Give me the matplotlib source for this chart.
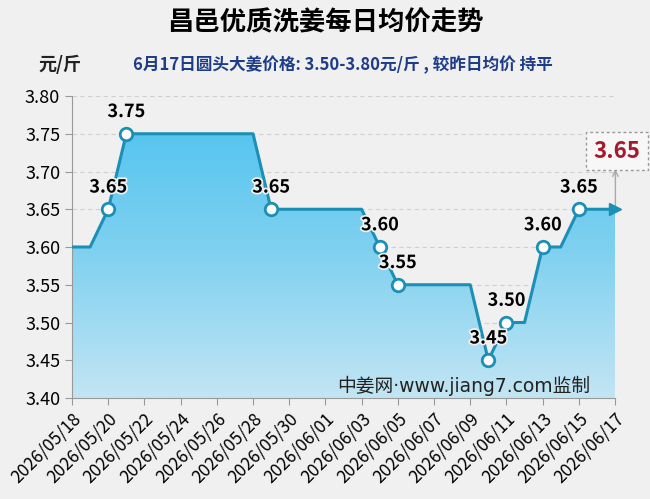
import numpy as np
import matplotlib
matplotlib.use("Agg")
import matplotlib.pyplot as plt
import matplotlib.patheffects as pe
import pandas as pd

plt.rcParams['font.family'] = ['Noto Sans CJK SC', 'DejaVu Sans']

# daily average price, 2026/05/18 .. 2026/06/17
dates = pd.date_range('2026-05-18', '2026-06-17', freq='D')
prices = [3.60, 3.60, 3.65, 3.75, 3.75, 3.75, 3.75, 3.75, 3.75, 3.75,
          3.75, 3.65, 3.65, 3.65, 3.65, 3.65, 3.65, 3.60, 3.55, 3.55,
          3.55, 3.55, 3.55, 3.45, 3.50, 3.50, 3.60, 3.60, 3.65, 3.65,
          3.65]
yticks = [3.40, 3.45, 3.50, 3.55, 3.60, 3.65, 3.70, 3.75, 3.80]

line_col = '#1b8fb5'
bg = '#f0f0f0'

x = np.arange(len(prices))
y = np.array(prices)

fig = plt.figure(figsize=(6.5, 4.99), dpi=100, facecolor=bg)
ax = fig.add_axes([0.1108, 0.2024, 0.8354, 0.6052])
ax.set_facecolor(bg)
ax.set_xlim(0, len(x) - 1)
ax.set_ylim(3.40, 3.80)

# gradient area under the line
poly = ax.fill_between(x, y, 3.40, color='none', lw=0)
grad = np.linspace(0, 1, 256).reshape(-1, 1)
cmap = matplotlib.colors.LinearSegmentedColormap.from_list(
    'g', ['#c2e5f3', '#7ed0f0', '#4bc2ef'])
img = ax.imshow(grad, cmap=cmap, aspect='auto', origin='lower',
                extent=[0, len(x) - 1, 3.40, 3.80], zorder=1)
img.set_clip_path(poly.get_paths()[0], transform=ax.transData)

for v in yticks[1:]:
    ax.axhline(v, color='#d0d0d0', lw=0.8, ls=(0, (4, 3)), zorder=0.5)

ax.plot(x, y, color=line_col, lw=2.2, zorder=3)
ax.plot(x[-1], y[-1], marker='>', color=line_col, ms=9, zorder=4, clip_on=False)

chg = [i for i in range(1, len(y)) if y[i] != y[i - 1]]
ax.plot(x[chg], y[chg], 'o', ms=9, mfc='white', mec=line_col, mew=2, zorder=5)
for i in chg:
    ax.annotate(f'{y[i]:.2f}', (x[i], y[i]), xytext=(0, 16),
                textcoords='offset points', ha='center', va='center',
                fontsize=13, fontweight='bold', color='black', zorder=6,
                path_effects=[pe.withStroke(linewidth=2.5, foreground=bg)])

# last value callout
ax.annotate('', xy=(x[-1] + 0.02, 3.703), xytext=(x[-1] + 0.02, y[-1]),
            arrowprops=dict(arrowstyle='->', color='#aaaaaa', lw=1,
                            shrinkA=0, shrinkB=0),
            annotation_clip=False)
ax.text(x[-1] + 0.1, 3.727, f'{y[-1]:.2f}', ha='center', va='center',
        fontsize=16, fontweight='bold', color='#a31a2c', zorder=7,
        bbox=dict(boxstyle='square,pad=0.33', fc='#f7f7f7', ec='#999999',
                  ls=(0, (2, 2)), lw=1), clip_on=False)

for s in ['top', 'right']:
    ax.spines[s].set_visible(False)
for s in ['left', 'bottom']:
    ax.spines[s].set_color('#999999')

ax.set_yticks(yticks)
ax.set_yticklabels([f'{v:.2f}' for v in yticks], fontsize=13)
ax.set_xticks(x[::2])
ax.set_xticklabels([d.strftime('%Y/%m/%d') for d in dates[::2]],
                   rotation=45, ha='right', rotation_mode='anchor', fontsize=12.5)
ax.tick_params(colors='#999999', labelcolor='black', length=5)

ax.text(0.955, 0.04, '中姜网·www.jiang7.com监制', transform=ax.transAxes,
        ha='right', va='center', fontsize=13.5, color='#222222', zorder=8,
        family=['DejaVu Sans', 'Noto Sans CJK SC'])

fig.text(0.5, 0.955, '昌邑优质洗姜每日均价走势', ha='center', va='center',
         fontsize=19, fontweight='bold', color='black')
fig.text(0.092, 0.87, '元/斤', ha='center', va='center', fontsize=13,
         fontweight='bold', color='#222222')
fig.text(0.205, 0.87, '6月17日圆头大姜价格: 3.50-3.80元/斤 , 较昨日均价 持平',
         ha='left', va='center', fontsize=12, fontweight='bold', color='#1f3c88')

fig.savefig('out.png', dpi=100, facecolor=bg)
